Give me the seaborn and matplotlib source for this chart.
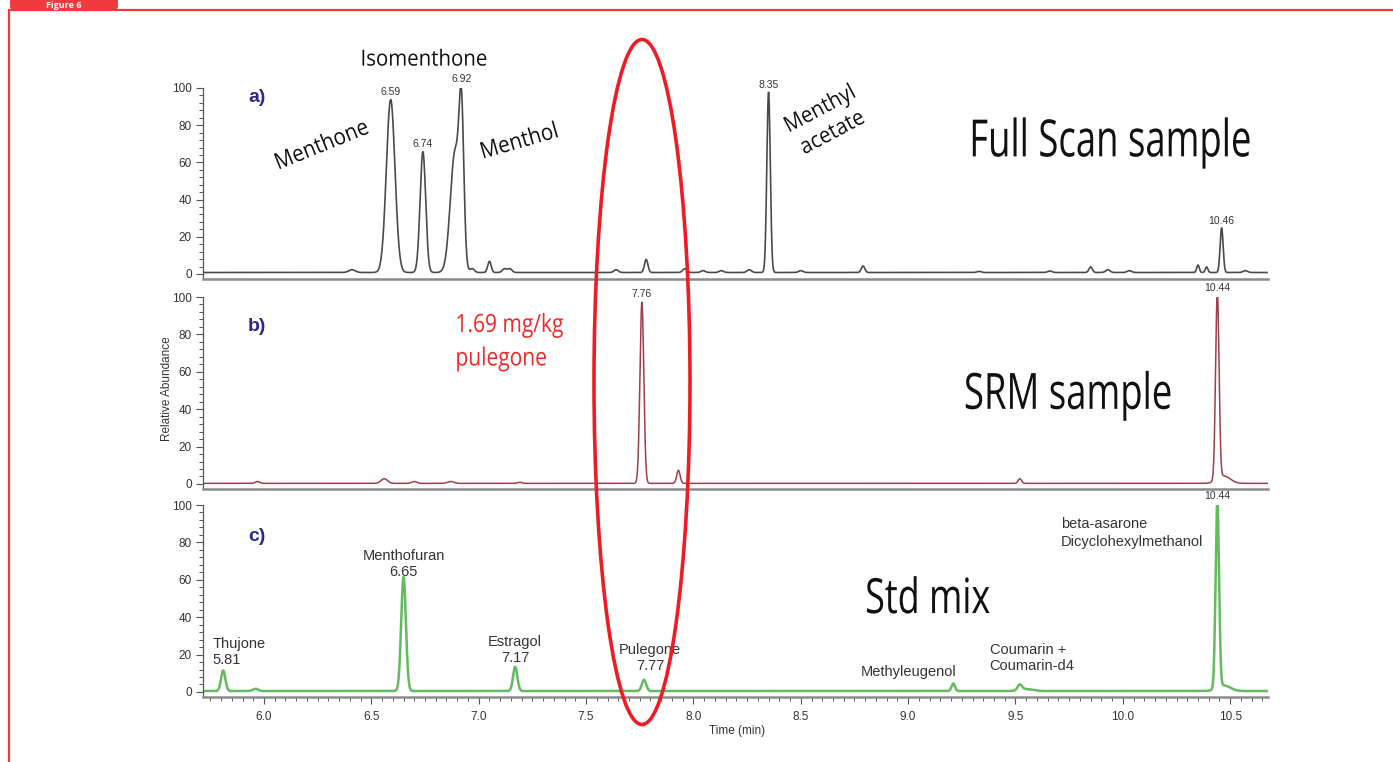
import numpy as np
import pandas as pd
import matplotlib
matplotlib.use("Agg")
import matplotlib.pyplot as plt
import seaborn as sns
from matplotlib import font_manager
from matplotlib.lines import Line2D
from matplotlib.patches import Ellipse, FancyBboxPatch
from matplotlib.patheffects import AbstractPathEffect
from matplotlib.ticker import MultipleLocator
from matplotlib.transforms import Affine2D

# ---------------------------------------------------------------------------
# Peak tables: retention time (min), relative abundance (%), peak sigma (min)
# ---------------------------------------------------------------------------
# a) full-scan sample
scan_rt = [6.41, 6.59, 6.74, 6.89, 6.92, 6.97, 7.05, 7.12, 7.145, 7.64, 7.78,
           7.96, 8.045, 8.13, 8.26, 8.35, 8.50, 8.79, 9.33, 9.66, 9.85, 9.93,
           10.03, 10.35, 10.39, 10.46, 10.57]
scan_height = [1.5, 93, 65, 65, 73, 2, 6, 2, 2, 1.5, 7,
               2, 1, 1, 1.5, 97, 1, 3.5, 0.6, 0.8, 3, 1.5,
               1, 4, 3, 24, 1]
scan_sigma = [0.015, 0.02, 0.013, 0.022, 0.011, 0.01, 0.008, 0.01, 0.01, 0.01, 0.008,
              0.01, 0.01, 0.01, 0.01, 0.008, 0.01, 0.008, 0.01, 0.01, 0.008, 0.01,
              0.01, 0.006, 0.006, 0.007, 0.01]
scan_base = 0.8

# b) SRM sample
srm_rt = [5.97, 6.56, 6.70, 6.87, 7.19, 7.76, 7.93, 9.52, 10.44, 10.47]
srm_height = [1, 2.5, 1, 1, 0.6, 97, 7, 2.5, 100, 4]
srm_sigma = [0.01, 0.015, 0.012, 0.015, 0.01, 0.009, 0.008, 0.008, 0.008, 0.03]
srm_base = 0.3

# c) standard mix
std_rt = [5.81, 5.96, 6.65, 7.17, 7.77, 9.21, 9.52, 9.55, 10.44, 10.47]
std_height = [11, 1.2, 61, 13, 6, 4, 3, 1, 100, 3]
std_sigma = [0.01, 0.012, 0.011, 0.01, 0.01, 0.008, 0.01, 0.03, 0.008, 0.03]
std_base = 0.5

# Retention-time labels
scan_labels = [("6.59", 6.59, 93), ("6.74", 6.74, 65), ("6.92", 6.92, 100),
               ("8.35", 8.35, 97), ("10.46", 10.46, 24)]
srm_labels = [("7.76", 7.76, 97), ("10.44", 10.44, 100)]
std_labels = [("10.44", 10.44, 100)]
std_compounds = [("Thujone", "5.81", 5.81, 11), ("Menthofuran", "6.65", 6.65, 61),
                 ("Estragol", "7.17", 7.17, 13), ("Pulegone", "7.77", 7.77, 6)]

x_ticks = [6.0, 6.5, 7.0, 7.5, 8.0, 8.5, 9.0, 9.5, 10.0, 10.5]
y_ticks = [0, 20, 40, 60, 80, 100]

# ---------------------------------------------------------------------------
sns.set_theme(style="white")
available = {f.name for f in font_manager.fontManager.ttflist}


def pick(*names):
    for n in names:
        if n in available:
            return n
    return "DejaVu Sans"


humanist = pick("Open Sans", "Noto Sans", "Roboto")
arial = pick("Liberation Sans", "DejaVu Sans")
plt.rcParams["font.family"] = [arial, "DejaVu Sans"]


class Condense(AbstractPathEffect):
    """Draw glyph outlines narrowed horizontally, line by line."""

    def __init__(self, factor, anchor="center"):
        super().__init__()
        self.factor = factor
        self.anchor = anchor

    def draw_path(self, renderer, gc, tpath, affine, rgbFace=None):
        ext = tpath.get_extents()
        cx = ext.x0 if self.anchor == "left" else 0.5 * (ext.x0 + ext.x1)
        squeeze = (Affine2D().translate(-cx, 0).scale(self.factor, 1.0)
                   .translate(cx, 0))
        renderer.draw_path(gc, tpath, squeeze + affine, rgbFace)


XMIN, XMAX = 5.716, 10.676
t = np.linspace(XMIN, XMAX, 5000)


def trace(rt, height, sigma, base):
    rt = np.asarray(rt)[:, None]
    h = np.asarray(height)[:, None]
    s = np.asarray(sigma)[:, None]
    y = base + (h * np.exp(-0.5 * ((t[None, :] - rt) / s) ** 2)).sum(axis=0)
    return pd.DataFrame({"Time (min)": t, "Relative Abundance": y})


W, H = 1393, 762
fig = plt.figure(figsize=(W / 100, H / 100), dpi=100)
fig.patch.set_facecolor("white")

left = 203 / W
width = (1268 - 203) / W
panel_px = [(88, 279), (297, 489), (505, 697)]
axes = []
for top, bot in panel_px:
    ax = fig.add_axes([left, 1 - bot / H, width, (bot - top) / H])
    axes.append(ax)

datasets = [
    (trace(scan_rt, scan_height, scan_sigma, scan_base), "#4a4a4a", 1.2),
    (trace(srm_rt, srm_height, srm_sigma, srm_base), "#9c3f4a", 1.1),
    (trace(std_rt, std_height, std_sigma, std_base), "#62bb5e", 1.8),
]

for ax, (df, col, lw) in zip(axes, datasets):
    sns.lineplot(data=df, x="Time (min)", y="Relative Abundance", ax=ax,
                 color=col, linewidth=lw)
    ax.set_xlim(XMIN, XMAX)
    ax.set_ylim(-2.7, 100)
    ax.set_xlabel("")
    ax.set_ylabel("")
    ax.set_facecolor("none")
    for s in ("top", "right"):
        ax.spines[s].set_visible(False)
    ax.spines["left"].set_color("#555555")
    ax.spines["left"].set_linewidth(0.9)
    ax.spines["bottom"].set_color("#8a8a8a")
    ax.spines["bottom"].set_linewidth(1.8)
    ax.set_yticks(y_ticks)
    ax.yaxis.set_minor_locator(MultipleLocator(4))
    ax.tick_params(axis="y", which="major", direction="out", length=5, width=0.8,
                   color="#555555", labelsize=8.5, labelcolor="#333333", pad=3,
                   left=True)
    ax.tick_params(axis="y", which="minor", direction="out", length=3, width=0.7,
                   color="#555555", left=True)
    ax.grid(False)

for ax in axes[:2]:
    ax.set_xticks([])
    ax.tick_params(axis="x", which="both", bottom=False, labelbottom=False)

axc = axes[2]
axc.set_xticks(x_ticks)
axc.set_xticklabels([f"{v:.1f}" for v in x_ticks])
axc.xaxis.set_minor_locator(MultipleLocator(0.05))
axc.tick_params(axis="x", which="major", direction="out", length=5, width=0.8,
                color="#555555", labelsize=8.5, labelcolor="#333333", pad=5,
                bottom=True)
axc.tick_params(axis="x", which="minor", direction="out", length=3, width=0.7,
                color="#555555", bottom=True)

# Retention-time labels above peaks
small = dict(fontsize=7.5, color="#333333", ha="center", va="bottom", clip_on=False)
for ax, labels in zip(axes, [scan_labels, srm_labels, std_labels]):
    for txt, x, h in labels:
        ax.text(x, h + 2, txt, **small)

# Compound names with retention times in the standard mix
comp = dict(fontsize=10.5, color="#333333", va="center", linespacing=1.2,
            clip_on=False)
label_shift = {"Thujone": (-0.048, 10.5, "left"),
               "Menthofuran": (0.0, 7.5, "center"),
               "Estragol": (0.0, 9.5, "center"),
               "Pulegone": (0.028, 12.0, "center")}
for name, rt_txt, x, h in std_compounds:
    dx, dy, ha = label_shift[name]
    axc.text(x + dx, h + dy, f"{name}\n{rt_txt}", ha=ha,
             multialignment="left" if ha == "left" else "center", **comp)
axc.text(9.0, 10.5, "Methyleugenol", fontsize=10.5, color="#333333",
         ha="center", va="center")
axc.text(9.38, 18, "Coumarin +\nCoumarin-d4", fontsize=10.5, color="#333333",
         ha="left", va="center", linespacing=1.2)
axc.text(9.71, 85, "beta-asarone\nDicyclohexylmethanol", fontsize=10.5,
         color="#333333", ha="left", va="center", linespacing=1.3)

# Panel letters
for ax, letter, y in zip(axes, ["a)", "b)", "c)"], [95, 84, 83]):
    ax.text(5.925, y, letter, fontsize=14, fontweight="bold", color="#2a2a8c",
            ha="left", va="center", family=[arial, "DejaVu Sans"])

# Compound names in panel a
big = dict(family=[humanist, "DejaVu Sans"], color="#111111", ha="center",
           va="center", clip_on=False)
axa = axes[0]
axa.text(6.745, 115, "Isomenthone", fontsize=16, path_effects=[Condense(0.92)], **big)
axa.text(6.27, 69, "Menthone", fontsize=16.5, rotation=22,
         path_effects=[Condense(0.9)], **big)
axa.text(7.19, 71, "Menthol", fontsize=16.5, rotation=16,
         path_effects=[Condense(0.9)], **big)
axa.text(8.62, 82, "Menthyl\nacetate", fontsize=16, rotation=28,
         linespacing=1.35, path_effects=[Condense(0.92)], **big)

# Panel titles
axa.text(9.94, 70.5, "Full Scan sample", fontsize=37,
         path_effects=[Condense(0.71)], **big)
axes[1].text(9.745, 47, "SRM sample", fontsize=36,
             path_effects=[Condense(0.73)], **big)
axc.text(9.09, 49, "Std mix", fontsize=35, path_effects=[Condense(0.74)], **big)

# Pulegone content in SRM sample
axes[1].text(6.89, 91.5, "1.69 mg/kg\npulegone", fontsize=18, color="#f02828",
             ha="left", va="top", linespacing=1.45,
             family=[humanist, "DejaVu Sans"],
             path_effects=[Condense(0.84, anchor="left")])

# Axis titles
fig.text(167 / W, 1 - 389 / H, "Relative Abundance", rotation=90, fontsize=8.5,
         color="#333333", ha="center", va="center")
fig.text(737 / W, 1 - 731 / H, "Time (min)", fontsize=8.5, color="#333333",
         ha="center", va="center")

# Highlight around the pulegone retention window
fig.add_artist(Ellipse((642 / W, 1 - 382 / H), 96 / W, 685 / H,
                       transform=fig.transFigure, fill=False,
                       edgecolor="#ee1c25", linewidth=2.6, zorder=20))

# Figure frame and tab
frame_col = "#ef3a40"
fig.add_artist(Line2D([9 / W, 9 / W], [0, 1 - 10 / H], transform=fig.transFigure,
                      color=frame_col, linewidth=1.6))
fig.add_artist(Line2D([9 / W, 1], [1 - 10 / H, 1 - 10 / H],
                      transform=fig.transFigure, color=frame_col, linewidth=1.6))
fig.add_artist(FancyBboxPatch((10 / W, 1 - 11 / H), 108 / W, 20 / H,
                              boxstyle="round,pad=0,rounding_size=0.006",
                              transform=fig.transFigure, facecolor=frame_col,
                              edgecolor="none", clip_on=False))
fig.text(64 / W, 1 - 5.5 / H, "Figure 6", fontsize=6.5, fontweight="bold",
         color="white", ha="center", va="center", family=[humanist, "DejaVu Sans"])

fig.savefig("out.png", dpi=100, facecolor="white")
